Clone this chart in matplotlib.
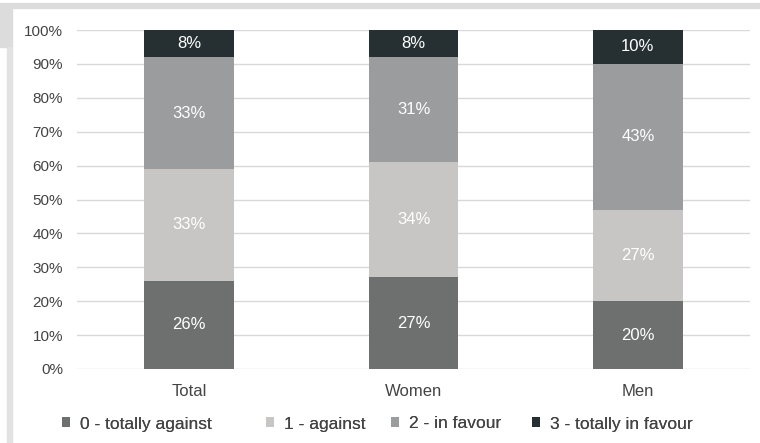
import matplotlib.pyplot as plt
from matplotlib.patches import Rectangle

plt.rcParams['font.family'] = ['Liberation Sans', 'DejaVu Sans']

# Survey shares per group, stacked bottom to top
groups = ['Total', 'Women', 'Men']
series_names = ['0 - totally against', '1 - against', '2 - in favour', '3 - totally in favour']
totally_against = [26, 27, 20]
against = [33, 34, 27]
in_favour = [33, 31, 43]
totally_in_favour = [8, 8, 10]
yticks = [0, 10, 20, 30, 40, 50, 60, 70, 80, 90, 100]

series = [totally_against, against, in_favour, totally_in_favour]
colors = ['#6d706f', '#c8c6c4', '#9b9c9d', '#263033']
text_color = '#444444'

W, H = 760, 443
fig = plt.figure(figsize=(W / 100, H / 100), dpi=100)

# light grey frame strips along the top and left edge
fig.patches.append(Rectangle((0, 1 - 8 / H), 1, 5 / H, transform=fig.transFigure,
                             color='#dcdcdc', zorder=0))
fig.patches.append(Rectangle((0, 1 - 47 / H), 12 / W, 39 / H, transform=fig.transFigure,
                             color='#dcdcdc', zorder=0))
fig.patches.append(Rectangle((7 / W, 0), 5 / W, 1 - 47 / H, transform=fig.transFigure,
                             color='#e2e2e2', zorder=0))

ax = fig.add_axes([77 / W, 1 - 369 / H, 673 / W, 339 / H])

x = list(range(len(groups)))
bottom = [0] * len(groups)
handles = []
for vals, col, name in zip(series, colors, series_names):
    bars = ax.bar(x, vals, width=0.4, bottom=bottom, color=col, label=name, zorder=3)
    handles.append(bars)
    for xi, b, v in zip(x, bottom, vals):
        ax.text(xi, b + v / 2, f'{v}%', ha='center', va='center', color='white',
                fontsize=12, zorder=4)
    bottom = [b + v for b, v in zip(bottom, vals)]

ax.set_xlim(-0.5, 2.5)
ax.set_ylim(0, 100)
ax.set_yticks(yticks)
ax.set_yticklabels([f'{t}%' for t in yticks])
ax.set_xticks(x)
ax.set_xticklabels(groups)
ax.tick_params(axis='both', length=0, labelcolor=text_color)
ax.tick_params(axis='y', pad=10, labelsize=11)
ax.tick_params(axis='x', pad=11, labelsize=12)
ax.grid(axis='y', color='#d9d9d9', linewidth=1, zorder=0)
for s in ax.spines.values():
    s.set_visible(False)

# one legend per entry so the items sit at their own spots along the bottom
legend_x = [62, 266, 391, 532]
for h, name, lx in zip(handles, series_names, legend_x):
    leg = fig.legend(handles=[h], labels=[name], loc='center left',
                     bbox_to_anchor=(lx / W, 1 - 424 / H), frameon=False,
                     fontsize=12.5, handlelength=0.48, handleheight=0.48,
                     handletextpad=0.58, borderpad=0, borderaxespad=0,
                     labelcolor=text_color)
    fig.add_artist(leg)

fig.savefig('out.png', dpi=100, facecolor='white')
